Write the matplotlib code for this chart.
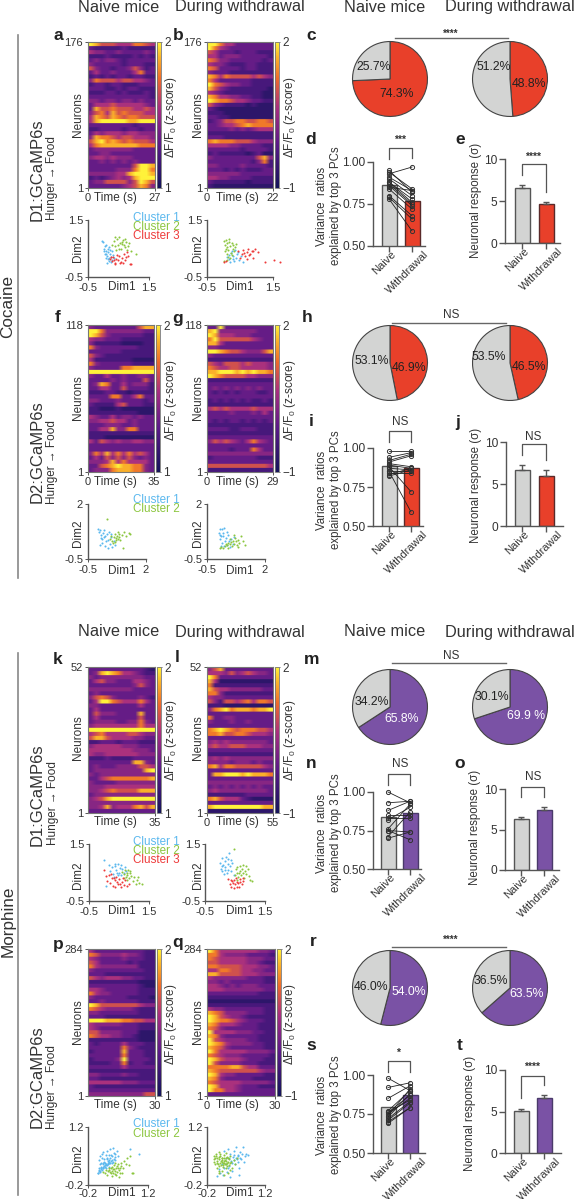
import matplotlib
matplotlib.use("Agg")
from matplotlib import pyplot as plt
from matplotlib.colors import LinearSegmentedColormap
from matplotlib.transforms import ScaledTranslation
import numpy as np

plt.rcParams['font.family'] = ['Liberation Sans', 'DejaVu Sans']
plt.rcParams['mathtext.fontset'] = 'custom'
plt.rcParams['mathtext.rm'] = 'Liberation Sans'
plt.rcParams['mathtext.it'] = 'Liberation Sans'
plt.rcParams['mathtext.default'] = 'regular'
plt.rcParams['axes.unicode_minus'] = False
plt.rcParams['text.color'] = '#333333'

# heatmaps, rows top to bottom, one digit per cell: 0 = -1 ... 9 = 2
heat_a = ["986665557765", "322222322222", "544334333343", "222322223232", "343443233333", "433333233322",
          "643323346423", "353343335733", "232323323322", "476665665543", "233233222333", "333223233222",
          "222332322232", "333333333332", "443443443433", "355565555543", "386676665565", "467586766655",
          "587687677666", "589999988999", "333333332333", "223333233233", "354555455444", "487765665554",
          "689787676665", "578888888777", "344444443333", "334433333333", "455454443333", "334343434333",
          "333333336998", "333334447997", "444445589998", "232345458999", "344666646986", "333333456874"]
heat_b = ["997553333333", "975433333333", "653332333222", "553444333332", "764433333323", "544322233222",
          "763333233222", "433322222222", "875766665654", "753333332222", "976544332222", "864322222221",
          "543222222211", "875544332211", "987765543322", "643222212111", "321111111111", "222111111111",
          "332211111111", "234667766776", "334556787777", "333343434555", "222222222222", "333222222222",
          "787776665444", "555544333322", "333333233332", "232222212311", "433333333684", "333333332472",
          "443333433332", "333232322233", "444444333333", "554433332222", "322222212222", "211111111111"]
heat_f = ["433333333688", "997444444433", "986433333322", "544333222222", "422222111122", "743333333222",
          "333333222222", "643222222222", "522222221111", "743333332222", "433333778888", "999999999999",
          "433533433443", "333343433363", "348733534442", "335533633332", "222332212222", "333377335733",
          "443334333323", "322225633322", "221112111111", "222222222111", "543353443433", "445565534333",
          "333444334333", "335584477333", "222222222222", "222111111111", "536545445544", "333333333333",
          "333333333333", "475857575653", "353646464343", "444585755553", "336789887743", "344478887743"]
heat_g = ["339333333333", "894444444333", "985554443333", "796666665433", "885333333333", "443333333333",
          "998766544468", "433333333333", "222222222222", "654666565554", "765566555554", "889998989887",
          "987666655444", "222222222222", "333333333333", "343434343433", "323232333223", "333333333333",
          "232323232232", "222222222222", "565655556555", "333343334353", "333333333333", "323233232323",
          "222222222222", "333322333222", "222222222222", "333333333333", "465654357543", "333333333333",
          "333323337533", "444444444444", "233333333222", "333333333333", "666666666665", "222222222222"]
heat_k = ["333333333321", "348987554322", "434444444433", "356443335543", "333333334643", "444444443333",
          "343333333333", "467643333432", "359976555753", "443333333533", "353333333333", "364443333833",
          "353333333633", "344443344743", "455555555755", "999999999999", "567555566544", "688655554433",
          "223332333222", "455555444333", "555555554443", "544555555444", "222322223333", "333333338843",
          "343334444665", "344444444489", "434444444444", "335677777778", "433334444444", "444555555555",
          "445676666888", "344444444444", "456899999999", "444444444444", "445845557868", "333333333333"]
heat_l = ["468333333333", "555464565443", "973333333333", "851111111111", "722222222222", "865544444433",
          "774222222222", "544333333333", "642665675776", "222111111111", "478978887889", "333333333333",
          "733443333333", "433343343333", "333333333333", "789876777665", "778667765554", "333333333333",
          "454544444443", "565566655544", "333333333333", "222222222222", "454544444444", "444434443433",
          "785776666654", "333333333333", "388999898887", "333333333333", "444444444444", "343434343433",
          "454444444443", "222222233333", "786555321111", "333333333333", "899999999988", "111111111111"]
heat_p = ["533333333322", "764444544322", "543333433322", "653333323222", "754444444222", "433333333322",
          "333222222222", "654555443322", "222222222111", "333333333211", "554333333222", "754433333222",
          "433333322221", "334333333222", "986666666544", "765444443222", "443333333222", "333222222222",
          "999888776655", "544444333222", "543333333222", "664444333111", "765544332111", "222222222111",
          "323333533322", "333333743222", "233333833322", "333333733322", "233334933332", "222233723322",
          "333333533333", "222222222222", "443333433222", "332222222222", "555555444333", "322222222222",
          "333333333333", "444444444466"]
heat_q = ["975555555443", "775444433332", "765555544433", "665555544322", "776666555443", "557766554433",
          "886666555444", "544444433322", "443433333322", "554343444333", "555444444433", "333333333222",
          "222222222222", "111111111111", "222222222222", "544333333322", "876444433322", "986544322222",
          "987765433322", "875554333222", "764333333222", "955554443322", "874333333222", "965444433222",
          "987544443322", "876433333322", "975555544443", "765444333332", "986555433322", "964444333222",
          "777788655333", "876666666544", "985443333322", "874333332222", "765555444443", "985554333222",
          "977554333333", "333333333333"]

heat_max = [27, 22, 35, 29, 35, 55, 30, 30]
heat_neurons = [176, 176, 118, 118, 52, 52, 284, 284]

# scatter panels: x then y, one pair for each cluster
a1x = [-.05, .0, .02, .05, .08, .1, .12, .15, .18, .2, .22, .25, .28, .3, .05, .1, .14, .17, .22, .26, .32, .36, .12, .2, .02, .08]
a1y = [.78, .72, .5, .58, .42, .3, .22, .38, .15, .05, .3, .2, .1, .42, .3, .62, .5, .12, .45, .02, .28, .15, .0, .55, .42, .18]
a2x = [.35, .4, .45, .5, .55, .6, .65, .7, .75, .8, .85, .42, .52, .62, .72, .58, .68, .48, .78, .9, 1.08, .3, .38]
a2y = [.75, .6, .85, .5, .7, .65, .8, .55, .72, .6, .7, .45, .9, .72, .82, .5, .62, .62, .45, .42, .3, .62, .9]
a3x = [.22, .28, .32, .38, .42, .48, .52, .58, .62, .68, .72, .78, .82, .88, .35, .45, .55, .65, .75, .9, .25, .4]
a3y = [.12, .05, .2, .0, .14, .08, .22, .02, .16, .3, .1, .38, .25, -.05, .1, .28, .0, -.02, .2, -.06, .2, -.03]
b1x = [.12, .18, .22, .28, .32, .38, .42, .48, .52, .58, .25, .3, .36, .16, .44, .2]
b1y = [.2, .12, .35, .25, .05, .18, .3, .1, .22, .02, .42, .14, .45, .28, .38, .03]
b2x = [.02, .05, .08, .1, .12, .15, .18, .2, .22, .25, .28, .3, .32, .35, .38, .1, .15, .2, .05, .12, .25, .02, .08, .18]
b2y = [.75, .62, .8, .55, .68, .45, .72, .6, .35, .7, .5, .62, .4, .55, .66, .3, .2, .15, .4, .1, .28, .05, .5, .82]
b3x = [.02, .08, .45, .55, .6, .65, .7, .75, .8, .85, .9, .95, 1.05, 1.25, 1.52, 1.7, .72, .5, .62, .78, .88]
b3y = [.02, .05, .4, .3, .45, .25, .38, .48, .3, .42, .18, .5, .38, .02, .1, .03, .12, .18, .35, .28, .42]
f1x = [-.07, -.02, .02, .05, .08, .12, .15, .2, .25, .3, .35, .4, .45, .5, .55, .6, .65, .1, .18, .28, .38, .48, .0, .22]
f1y = [.85, .72, .8, .45, .6, .25, .7, .5, .1, .62, .35, .75, .2, .5, .05, .3, .15, .4, .82, .3, .02, .65, .15, .55]
f2x = [.45, .5, .55, .6, .65, .7, .72, .75, .78, .82, .85, .9, .95, 1.05, 1.15, 1.25, 1.3, .33, .68, .8, 1.0, .58]
f2y = [.4, .55, .3, .5, .62, .35, .45, .55, .72, .5, .65, .38, .6, .72, .55, .7, .62, 1.3, .28, .42, -.02, .22]
g1x = [.0, .05, .08, .12, .15, .2, .25, .3, .35, .4, .45, .5, .55, .6, .65, .1, .18, .28, .38, .05, .22, .15]
g1y = [.7, .4, .85, .55, .25, .7, .9, .45, .15, .6, .3, .05, .4, .2, .5, .1, .55, .3, .75, .6, .1, .85]
g2x = [.07, .12, .2, .28, .35, .42, .48, .52, .58, .62, .68, .72, .78, .82, .88, .95, 1.05, 1.15, .5, .65, .75, .4, .3, .85]
g2y = [.0, .05, -.02, .08, .12, .02, .18, .28, .1, .32, .2, .45, .12, .38, .25, .55, .3, .12, .42, .6, .3, .22, .2, .05]
k1x = [.0, .15, .2, .25, .3, .35, .4, .45, .5, .55, .6, .65, .7, .72, .32, .42, .52, .38, .48, .58, .05]
k1y = [.95, .75, .55, .68, .45, .72, .58, .8, .5, .75, .62, .48, .7, .55, .35, .5, .66, .8, .42, .4, .02]
k2x = [.6, .65, .7, .72, .75, .78, .82, .85, .9, .95, 1.0, 1.05, 1.1, 1.18, 1.28, .68, .8, .88, .75, 1.12]
k2y = [.52, .45, .58, .35, .5, .42, .3, .55, .38, .2, .35, .1, .22, .12, .08, .3, .6, .48, .22, .35]
k3x = [.0, .05, .1, .15, .2, .25, .3, .35, .4, .45, .5, .55, .6, .65, .7, .75, .83, .22, .32, .42, .52, .62, .38]
k3y = [.6, .38, .2, .42, .12, .3, .02, .22, .35, .1, .28, .0, .18, .05, .25, .02, .1, .45, .3, .18, .08, .32, -.02]
l1x = [.0, .02, .05, .08, .1, .12, .15, .18, .2, .22, .25, .28, .3, .32, .35, .38, .4, .45, .06, .16, .26]
l1y = [.85, .62, 1.0, .55, .78, .45, .92, .68, 1.05, .5, .8, .6, 1.18, .72, .95, .55, .85, .42, .72, .58, .98]
l2x = [.45, .5, .52, .55, .58, .6, .65, .68, .7, .72, .75, .78, .8, .85, .88, .92, .95, 1.0, .62, .82, 1.05, .55]
l2y = [1.32, .42, .62, .5, .68, .35, .72, .55, .4, .62, .78, .5, .3, .72, .45, .62, .38, .25, .5, .55, .2, .22]
l3x = [.28, .32, .35, .38, .42, .45, .48, .5, .52, .55, .58, .62, .65, .68, .72, .75, .78, .4, .6]
l3y = [.28, .1, .22, .0, .12, -.05, .25, .08, .3, .0, .18, -.02, .15, .28, .08, .2, .32, .2, .12]
p1x = [.03, .05, .07, .08, .1, .12, .13, .15, .17, .18, .2, .22, .23, .25, .27, .28, .3, .32, .35, .38, .4, .43, .47, .5, .77, .99,
       .05, .08, .12, .18, .25, .32, .4, .22, .3, .1, .15, .35, .28, .42, .04, .06, .09, .11, .14, .16, .19, .21, .24, .26, .29, .31,
       .33, .36, .06, .1, .14, .2, .26, .34, .38, .44, .16, .24]
p1y = [.1, .14, .5, .12, .18, .56, .16, .22, .42, .25, .28, .52, .3, .62, .32, .4, .36, .66, .5, .7, .42, .55, .62, .5, .66, .56,
       .4, .3, .45, .36, .46, .46, .58, .2, .24, .34, .6, .34, .52, .4, .08, .16, .15, .2, .2, .24, .24, .28, .28, .3, .33, .34,
       .38, .4, .2, .24, .3, .32, .38, .52, .36, .48, .34, .42]
p2x = [.15, .2, .25, .28, .3, .33, .35, .38, .4, .43, .45, .48, .5, .53, .55, .58, .6, .65, .7, .75, .78, .82, .85, .42, .36, .52,
       .22, .26, .31, .34, .37, .41, .44, .47, .51, .54, .57, .62, .68, .39, .46]
p2y = [.12, .1, .05, .16, .22, .1, .02, .18, .28, .06, .22, .12, .3, .0, .2, .32, .1, .38, .45, .28, .5, .08, .08, .34, .14, .16,
       .16, .14, .12, .2, .24, .18, .14, .26, .22, .1, .26, .22, .3, .1, .04]
q1x = [.04, .08, .12, .15, .18, .2, .22, .25, .28, .3, .32, .35, .38, .4, .42, .45, .48, .5, .52, .55, .58, .6, .62, .65, .7, .72, .75, .8, .58, .35, .66,
       .26, .34, .44, .5, .54, .6, .4, .3, .46, .56]
q1y = [.02, .18, .1, .3, .05, .62, .22, .45, .12, .68, .25, .55, .38, .15, .48, .62, .3, .72, .42, .52, .22, .6, .42, .55, .35, .5, .56, .52, .04, .0, .72,
       .3, .44, .52, .46, .36, .44, .34, .2, .4, .5]
q2x = [-.04, -.02, .0, .02, .05, .05, .08, .1, .12, .15, .15, .18, .2, .22, .25, .25, .28, .3, .32, .35, .38, .4, .45, .48, .52, .1, .2, .3, .05, .15, .12, .25, .35,
       -.02, .0, .03, .07, .09, .11, .14, .17, .19, .21, .23, .27, .29, .31, .33, .36, .13, .16, .22, .26, .18, .24, .08, .1, .02, .28]
q2y = [.42, .5, .3, .55, .38, .22, .48, .6, .32, .15, .45, .28, .52, .38, .2, .58, .34, .44, .28, .5, .36, .22, .4, .3, .46, .08, .04, .1, .32, .36, .56, .46, .16,
       .36, .44, .46, .3, .42, .5, .28, .4, .34, .44, .3, .38, .26, .36, .42, .32, .38, .46, .32, .3, .24, .4, .14, .26, .5, .48]

# pies: drug slice then grey slice
pie_drug = [74.3, 48.8, 46.9, 46.5, 65.8, 69.9, 54.0, 63.5]
pie_grey = [25.7, 51.2, 53.1, 53.5, 34.2, 30.1, 46.0, 36.5]
pie_labels = [("25.7%", 250, 202, "74.3%", 320, 282), ("51.2%", 610, 202, "48.8%", 718, 253),
              ("53.1%", 245, 182, "46.9%", 357, 205), ("53.5%", 597, 170, "46.5%", 718, 200),
              ("34.2%", 245, 275, "65.8%", 335, 327), ("30.1%", 605, 260, "69.9 %", 708, 318),
              ("46.0%", 243, 260, "54.0%", 355, 277), ("36.5%", 603, 243, "63.5%", 710, 283)]

# paired variance ratios
d_naive = [.95, .94, .93, .91, .90, .88, .88, .87, .86, .85, .84, .80, .79, .78]
d_with = [.82, .84, .97, .83, .80, .76, .78, .75, .74, .83, .72, .68, .66, .59]
i_naive = [.98, .94, .92, .91, .90, .89, .88, .87, .85, .85, .84, .83, .82]
i_with = [.98, .97, .96, .95, .88, .87, .72, .86, .85, .59, .84, .87, .86]
n_naive = [1.00, .93, .88, .85, .83, .82, .76, .75, .75, .71, .70]
n_with = [.93, .94, .94, .85, .83, .90, .92, .69, .74, .87, .74]
s_naive = [.98, .92, .85, .77, .76, .76, .75, .74, .73, .72, .71, .70, .69]
s_with = [.90, .95, .93, .90, .84, .87, .85, .91, .88, .83, .82, .79, .79]
var_bars = [(.865, .765), (.885, .87), (.84, .865), (.795, .87)]

# neuronal response mean and error
resp_bars = [(6.6, 4.6), (6.7, 5.9), (6.3, 7.4), (5.05, 6.65)]
resp_err = [(.3, .3), (.55, .8), (.3, .4), (.25, .35)]

RED = '#e8402a'
PURPLE = '#7a52a5'
GREY = '#d3d4d3'
LINE = '#555555'
BLUE_C = '#5bb8ee'
GREEN_C = '#8cc63f'
RED_C = '#ee3b3b'
W, H = 576, 1199

cmap = LinearSegmentedColormap.from_list('heat', [(0, '#14145a'), (.3, '#5b1a88'), (.55, '#a82f80'),
                                                  (.75, '#ee6a2a'), (.9, '#fbb52a'), (1, '#fff23a')])

fig = plt.figure(figsize=(W / 100, H / 100), dpi=100)


def px_axes(x0, y0, x1, y1):
    # box given in image pixels, y going down
    return fig.add_axes([x0 / W, 1 - y1 / H, (x1 - x0) / W, (y1 - y0) / H])


def style(ax):
    ax.spines[['top', 'right']].set_visible(False)
    ax.spines[['left', 'bottom']].set_color(LINE)
    ax.spines[['left', 'bottom']].set_linewidth(1)
    ax.patch.set_alpha(0)


def heatmap(rows, tmax, n, x0, y0, x1, y1, low, show_zero=True):
    grid = -1 + np.array([[int(c) for c in r] for r in rows]) / 9 * 3
    # repeat rows so the smoothing stays along time and the rows stay stripes
    grid = np.repeat(grid, 5, axis=0)
    ax = px_axes(x0, y0, x1, y1)
    im = ax.imshow(grid, cmap=cmap, vmin=-1, vmax=2, aspect='auto', extent=[0, tmax, 1, n], interpolation='bilinear')
    ax.set_xticks([0, tmax] if show_zero else [tmax])
    ax.set_yticks([1, n])
    ax.tick_params(labelsize=8, length=2, width=.7, color=LINE, pad=1.5, labelcolor='#333333')
    for s in ax.spines.values():
        s.set_color('#777777')
        s.set_linewidth(.8)
    cax = px_axes(x1 + 2, y0, x1 + 6, y1)
    cb = fig.colorbar(im, cax=cax, ticks=[-1, 2])
    cb.ax.set_yticklabels([low, '2'], fontsize=8.5, color='#333333')
    cb.ax.tick_params(length=1, width=.6, pad=1.5, color=LINE)
    cb.outline.set_edgecolor('#777777')
    cb.outline.set_linewidth(.6)


def scatter(clusters, lim, x0, y0, x1, y1, xpad=2.3):
    ax = px_axes(x0, y0, x1, y1)
    for (xs, ys), c in zip(clusters, [BLUE_C, GREEN_C, RED_C]):
        ax.scatter(xs, ys, s=2.2, color=c, linewidths=0, clip_on=False)
    ax.set_xlim(lim)
    ax.set_ylim(lim)
    ax.set_xticks(lim)
    ax.set_yticks(lim)
    ax.set_xticklabels([str(v) for v in lim])
    ax.set_yticklabels([str(v) for v in lim])
    ax.tick_params(labelsize=8, length=2, width=.7, color=LINE, labelcolor='#333333')
    ax.tick_params(axis='x', pad=xpad)
    ax.tick_params(axis='y', pad=1.5)
    style(ax)


def pie(drug, grey, color, cx, cy, r=37.6):
    ax = px_axes(cx - r - 1, cy - r - 1, cx + r + 1, cy + r + 1)
    ax.pie([drug, grey], colors=[color, GREY], startangle=90, counterclock=False,
           wedgeprops=dict(edgecolor='#444444', linewidth=.8))
    ax.set_xlim(-1.03, 1.03)
    ax.set_ylim(-1.03, 1.03)


def bars(vals, color, x_axis, x_end, cx0, cx1, y_low, y_high, lim, ticks, ticklabels, err=None, pairs=None):
    ax = px_axes(x_axis, y_high, x_end, y_low)
    span = cx1 - cx0
    ax.set_xlim((x_axis - cx0) / span, (x_end - cx0) / span)
    ax.set_ylim(lim)
    ax.bar([0, 1], vals, width=15 / span, color=[GREY, color], edgecolor=[LINE, '#5a2a2a' if color == RED else '#4a3a6a'],
           linewidth=1, bottom=0)
    if err is not None:
        ax.errorbar([0, 1], vals, yerr=[[0, 0], err], fmt='none', ecolor=LINE, elinewidth=1, capsize=2.5, capthick=1)
    if pairs is not None:
        for a, b in zip(*pairs):
            ax.plot([0, 1], [a, b], color='#222222', lw=.6, marker='o', ms=3, mfc='none', mec='#333333', mew=.7,
                    clip_on=False)
    ax.set_xticks([0, 1])
    ax.set_xticklabels(['Naive', 'Withdrawal'], rotation=45, ha='center', va='top')
    ax.set_yticks(ticks)
    ax.set_yticklabels(ticklabels)
    ax.tick_params(axis='y', labelsize=8.6, length=4, width=1, color=LINE, pad=1.5, labelcolor='#333333')
    ax.tick_params(axis='x', labelsize=8, length=4, width=1, color=LINE, pad=-2, labelcolor='#333333')
    shift = ScaledTranslation(-4.5 / 100, 0, fig.dpi_scale_trans)
    for lab in ax.get_xticklabels():
        lab.set_transform(lab.get_transform() + shift)
    style(ax)


# heatmaps
heatmap(heat_a, heat_max[0], heat_neurons[0], 88, 42, 155, 188, '1')
heatmap(heat_b, heat_max[1], heat_neurons[1], 207, 42, 273, 188, '\u22121')
heatmap(heat_f, heat_max[2], heat_neurons[2], 88, 325, 154, 472, '1')
heatmap(heat_g, heat_max[3], heat_neurons[3], 207, 325, 273, 472, '\u22121')
heatmap(heat_k, heat_max[4], heat_neurons[4], 88, 667, 155, 813, '1', show_zero=False)
heatmap(heat_l, heat_max[5], heat_neurons[5], 207, 667, 273, 813, '\u22121')
heatmap(heat_p, heat_max[6], heat_neurons[6], 88, 949, 155, 1096, '1', show_zero=False)
heatmap(heat_q, heat_max[7], heat_neurons[7], 207, 949, 275, 1096, '\u22121')

# scatters
scatter([(a1x, a1y), (a2x, a2y), (a3x, a3y)], [-0.5, 1.5], 88, 220, 149, 277)
scatter([(b1x, b1y), (b2x, b2y), (b3x, b3y)], [-0.5, 1.5], 207, 220, 273, 277)
scatter([(f1x, f1y), (f2x, f2y)], [-0.5, 2], 88, 504, 146, 559)
scatter([(g1x, g1y), (g2x, g2y)], [-0.5, 2], 207, 504, 265, 559)
scatter([(k1x, k1y), (k2x, k2y), (k3x, k3y)], [-0.5, 1.5], 89, 844, 149, 901)
scatter([(l1x, l1y), (l2x, l2y), (l3x, l3y)], [-0.5, 1.5], 205, 844, 265, 901)
scatter([(p1x, p1y), (p2x, p2y)], [-0.2, 1.2], 88, 1127, 148, 1185, xpad=.8)
scatter([(q1x, q1y), (q2x, q2y)], [-0.2, 1.2], 207, 1127, 265, 1185, xpad=.8)

# pies
pie_y = [79, 79, 363, 363, 707, 707, 988, 988]
pie_x = [390, 510] * 4
pie_col = [RED] * 4 + [PURPLE] * 4
for i in range(8):
    pie(pie_drug[i], pie_grey[i], pie_col[i], pie_x[i], pie_y[i])

# bar panels
v_tick = [.5, .75, 1.0]
v_lab = ['0.50', '0.75', '1.00']
bars(var_bars[0], RED, 373, 425, 389, 412, 246, 162, (.5, 1.0), v_tick, v_lab, pairs=(d_naive, d_with))
bars(var_bars[1], RED, 373, 423, 389, 411, 526, 448, (.5, 1.0), v_tick, v_lab, pairs=(i_naive, i_with))
bars(var_bars[2], PURPLE, 373, 421, 388, 410, 869, 792, (.5, 1.0), v_tick, v_lab, pairs=(n_naive, n_with))
bars(var_bars[3], PURPLE, 373, 425, 388, 410, 1153, 1075, (.5, 1.0), v_tick, v_lab, pairs=(s_naive, s_with))
r_tick = [0, 5, 10]
r_lab = ['0', '5', '10']
bars(resp_bars[0], RED, 505, 560, 522, 546, 243, 159, (0, 10), r_tick, r_lab, err=resp_err[0])
bars(resp_bars[1], RED, 506, 563, 522, 546, 526, 442, (0, 10), r_tick, r_lab, err=resp_err[1])
bars(resp_bars[2], PURPLE, 505, 559, 521, 544, 870, 789, (0, 10), r_tick, r_lab, err=resp_err[2])
bars(resp_bars[3], PURPLE, 505, 561, 521, 544, 1153, 1070, (0, 10), r_tick, r_lab, err=resp_err[3])

# everything else is placed in image pixels
top = fig.add_axes([0, 0, 1, 1], zorder=20)
top.set_xlim(0, W)
top.set_ylim(H, 0)
top.axis('off')


def t(x, y, s, size=8, rot=0, **kw):
    kw.setdefault('ha', 'center')
    kw.setdefault('va', 'center')
    top.text(x, y, s, fontsize=size, rotation=rot, **kw)


for y in (7, 632):
    t(119, y, 'Naive mice', 11.7)
    t(240, y, 'During withdrawal', 11.7)
    t(385, y, 'Naive mice', 11.7)
    t(510, y, 'During withdrawal', 11.7)

top.plot([18, 18], [35, 578], color='#888888', lw=1.2)
top.plot([18, 18], [653, 1195], color='#888888', lw=1.2)
t(8, 306, 'Cocaine', 12.3, 90)
t(8, 921, 'Morphine', 12.3, 90)

for x, y, s in [(37, 170, 'D1:GCaMP6s'), (37, 452, 'D2:GCaMP6s'), (37, 795, 'D1:GCaMP6s'), (37, 1077, 'D2:GCaMP6s')]:
    t(x, y, s, 12, 90)
for x, y in [(52, 178), (52, 462), (53, 803), (52, 1087)]:
    t(x, y, 'Hunger \u2192 Food', 8.5, 90)

letters = [('a', 58, 36), ('b', 178, 35), ('c', 311, 35), ('d', 311, 139), ('e', 460, 139), ('f', 58, 317), ('g', 178, 318),
           ('h', 307, 317), ('i', 311, 422), ('j', 458, 423), ('k', 58, 659), ('l', 177, 658), ('m', 312, 659), ('n', 311, 763),
           ('o', 460, 763), ('p', 58, 944), ('q', 178, 943), ('r', 313, 942), ('s', 311, 1046), ('t', 460, 1046)]
for s, x, y in letters:
    t(x, y, s, 12.5, fontweight='bold', color='#222222')

for yc, yt in [(115, 198), (398, 482), (738, 822), (1022, 1105)]:
    t(78, yc, 'Neurons', 8.5, 90)
    t(198, yc, 'Neurons', 8.5, 90)
    t(115, yt, 'Time (s)', 8.5)
    t(237, yt, 'Time (s)', 8.5)
    t(171, yc + 2, r'$\Delta$F/F$_0$ (z-score)', 8.5, 90)
    t(290, yc + 2, r'$\Delta$F/F$_0$ (z-score)', 8.5, 90)

for y2, y1 in [(248, 287), (533, 571), (875, 911), (1158, 1193)]:
    t(78, y2, 'Dim2', 8.5, 90)
    t(198, y2, 'Dim2', 8.5, 90)
    t(122, y1, 'Dim1', 8.5)
    t(240, y1, 'Dim1', 8.5)

for ys in [(218, 227, 236), (500, 509), (842, 851, 860), (1124, 1134)]:
    for y, s, c in zip(ys, ['Cluster 1', 'Cluster 2', 'Cluster 3'], [BLUE_C, GREEN_C, RED_C]):
        t(156, y, s, 8.4, color=c)

# pie labels and the lines above them
for i, (a, ax_, ay_, b, bx_, by_) in enumerate(pie_labels):
    cy = pie_y[i]
    base = {79: 0, 363: 300, 707: 610, 988: 900}[cy]
    t(290 + ax_ / 3, base + ay_ / 3, a, 8.8, color='#222222')
    t(290 + bx_ / 3, base + by_ / 3, b, 8.8, color='white' if pie_col[i] == PURPLE else '#222222')

for x0, x1, y, lab, ylab in [(395, 508, 38, '****', 34), (392, 506, 323, 'NS', 315), (392, 506, 663, 'NS', 656), (392, 506, 947, '****', 940)]:
    top.plot([x0, x1], [y, y], color='#666666', lw=1)
    t(451, ylab, lab, 8.5 if lab == 'NS' else 7, fontweight='bold' if lab != 'NS' else 'normal')

# significance brackets: x left, x right, top, left foot, right foot, label, label x, label y
brackets = [(389, 412, 148, 159, 158, '***', 400, 140), (522, 546, 164, 175, 192, '****', 533, 157),
            (389, 411, 431, 442, 442, 'NS', 400, 422), (522, 546, 444, 455, 460, 'NS', 533, 437),
            (388, 410, 774, 785, 785, 'NS', 400, 764), (521, 544, 787, 797, 797, 'NS', 533, 777),
            (388, 410, 1061, 1072, 1072, '*', 398, 1053), (521, 544, 1076, 1098, 1085, '****', 532, 1067)]
for x0, x1, ytop, yl, yr, lab, lx, ly in brackets:
    top.plot([x0, x0, x1, x1], [yl, ytop, ytop, yr], color='#555555', lw=.9)
    t(lx, ly, lab, 8.5 if lab == 'NS' else 7.5, fontweight='bold' if lab != 'NS' else 'normal')

for y in (206, 490, 833, 1115):
    t(329, y, 'Variance  ratios\nexplained by top 3 PCs', 8.3, 90, linespacing=1.15)
for x, y in [(476, 200), (476, 485), (475, 827), (470, 1113)]:
    t(x, y, 'Neuronal response (\u03c3)', 8.3, 90)

fig.savefig('out.png', dpi=100)
